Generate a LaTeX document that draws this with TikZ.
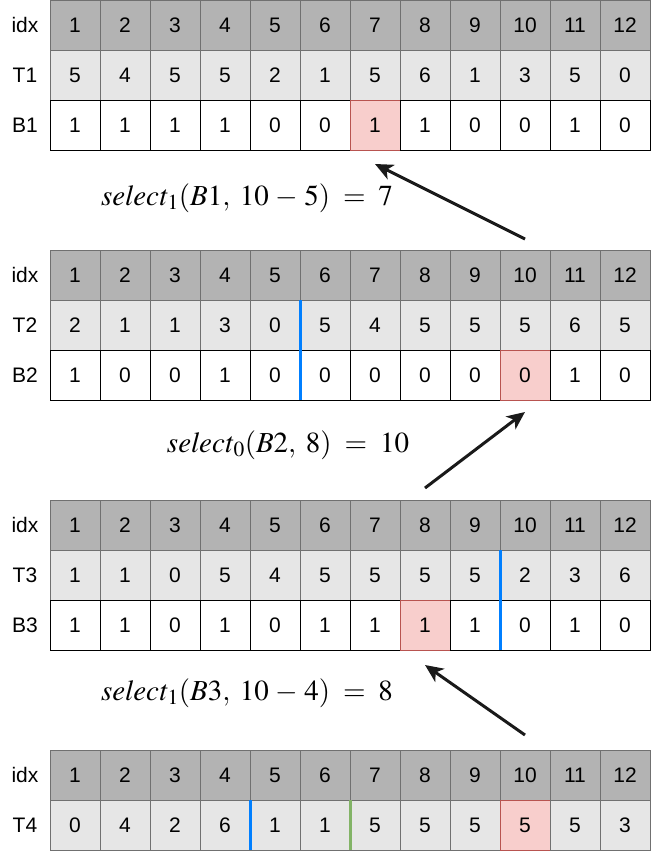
\documentclass[tikz,border=0pt]{standalone}
\usepackage{mathptmx}
\usepackage{fontspec}
\setmainfont{Liberation Serif}
\setsansfont{Liberation Sans}
\usetikzlibrary{arrows.meta,positioning}
\definecolor{idxgray}{HTML}{B3B3B3}
\definecolor{tgray}{HTML}{E6E6E6}
\definecolor{cellline}{HTML}{707070}
\definecolor{hitfill}{HTML}{F8CECC}
\definecolor{hitline}{HTML}{B85450}
\definecolor{splitblue}{HTML}{007FFF}
\definecolor{splitgreen}{HTML}{82B366}
\definecolor{jumpgray}{HTML}{1A1A1A}
\tikzset{
  cell/.style      = {draw=cellline, line width=1pt, minimum width=50pt, minimum height=50pt,
                      inner sep=0pt, outer sep=0pt, font=\sffamily\fontsize{21}{21}\selectfont},
  idxcell/.style   = {cell, fill=idxgray},
  tcell/.style     = {cell, fill=tgray},
  bcell/.style     = {cell, draw=black, fill=white},
  hitcell/.style   = {cell, draw=hitline, fill=hitfill},
  row label/.style = {font=\sffamily\fontsize{21}{21}\selectfont},
  formula/.style   = {font=\fontsize{29}{29}\selectfont},
  split blue/.style  = {draw=splitblue, line width=3pt},
  split green/.style = {draw=splitgreen, line width=3pt},
  jump/.style      = {draw=jumpgray, line width=3pt, -{Stealth[length=18pt,width=16pt,inset=5pt]}}
}

\begin{document}
\begin{tikzpicture}[x=1pt,y=-1pt]
\useasboundingbox (0,0) rectangle (651,852);
% the four tables, row by row
\foreach \row/\y/\kind/\hit/\vals in {
    i1/25/idxcell/0/{1,...,12},   t1/75/tcell/0/{5,4,5,5,2,1,5,6,1,3,5,0},  b1/125/bcell/7/{1,1,1,1,0,0,1,1,0,0,1,0},
    i2/275/idxcell/0/{1,...,12},  t2/325/tcell/0/{2,1,1,3,0,5,4,5,5,5,6,5}, b2/375/bcell/10/{1,0,0,1,0,0,0,0,0,0,1,0},
    i3/525/idxcell/0/{1,...,12},  t3/575/tcell/0/{1,1,0,5,4,5,5,5,5,2,3,6}, b3/625/bcell/8/{1,1,0,1,0,1,1,1,1,0,1,0},
    i4/775/idxcell/0/{1,...,12},  t4/825/tcell/10/{0,4,2,6,1,1,5,5,5,5,5,3}}
{
  \foreach \v [count=\i] in \vals {
    \ifnum\i=\hit\relax \def\look{hitcell}\else \let\look\kind\fi
    \node[\look] (\row-\i) at ({50*\i+25},\y) {\v};
  }
}
\foreach \lab/\y [count=\k] in {idx/25,T1/75,B1/125,idx/275,T2/325,B2/375,
                                 idx/525,T3/575,B3/625,idx/775,T4/825}
  \node[row label] (lab\k) at (25,\y) {\lab};

% split marks
\draw[split blue] (t2-5.north east) -- (b2-5.south east);
\draw[split blue] (t3-9.north east) -- (b3-9.south east);
\draw[split blue] (t4-4.north east) -- (t4-4.south east);
\draw[split green] (t4-6.north east) -- (t4-6.south east);

% select steps
\node[formula] (sel1) at (247,198) {$\mathit{select}_1(B1,\; 10\;{-}\;5) \;=\; 7$};
\node[formula] (sel2) at (288,445) {$\mathit{select}_0(B2,\; 8) \;=\; 10$};
\node[formula] (sel3) at (247,693) {$\mathit{select}_1(B3,\; 10\;{-}\;4) \;=\; 8$};

\draw[jump] ([yshift=11pt]i2-10.north) -- ([yshift=-14pt]b1-7.south);
\draw[jump] ([yshift=12pt]i3-8.north) -- ([yshift=-12pt]b2-10.south);
\draw[jump] ([yshift=15pt]i4-10.north) -- ([yshift=-15pt]b3-8.south);
\end{tikzpicture}
\end{document}
